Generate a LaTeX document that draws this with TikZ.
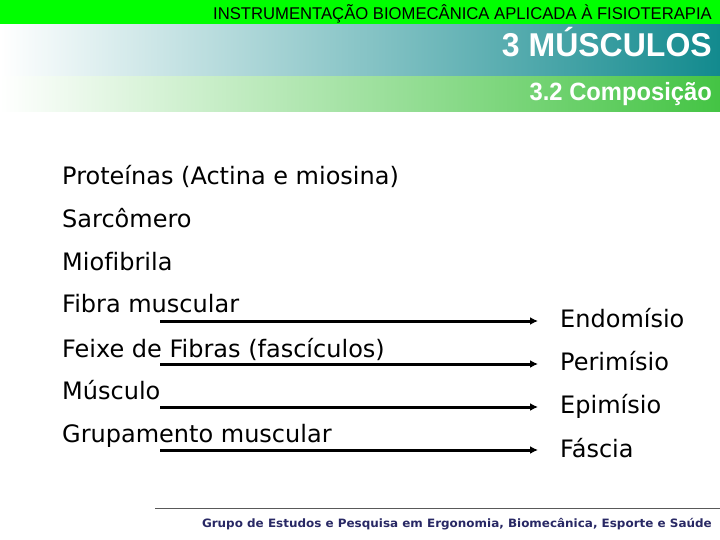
\documentclass[tikz,border=0pt]{standalone}
\usepackage{fontspec}
\setmainfont{DejaVu Sans}[Ligatures=NoCommon]
\newfontfamily\headfont{Liberation Sans}
\usepackage{xcolor}
\usetikzlibrary{positioning, arrows, arrows.meta}
\definecolor{topgreen}{RGB}{0,255,0}
\definecolor{bandteal}{RGB}{18,138,142}
\definecolor{bandgreen}{RGB}{68,196,68}
\definecolor{footnavy}{RGB}{40,40,100}
\tikzset{
    x=1pt, y=-1pt, % pixel-like units, y runs downward
    item/.style={anchor=base west, inner sep=0pt, font=\fontsize{24}{24}\selectfont}, % list entries
    tissue/.style={item}, % connective tissue names on the right
    heading/.style={anchor=base east, inner sep=0pt, text=white},
}
\tikzstyle{arrow} = [line width=3pt, -{Latex[length=8pt,width=8pt]}]

\begin{document}
\begin{tikzpicture}
    \useasboundingbox (0,0) rectangle (720,540);
    % title bars
    \fill[topgreen] (0,0) rectangle (720,25);
    \shade[left color=white, right color=bandteal] (0,25) rectangle (720,77);
    \shade[left color=white, right color=bandgreen] (0,77) rectangle (720,112);
    \node[anchor=base east, inner sep=0pt, font=\headfont\fontsize{17}{17}\selectfont] (course) at (712,20)
        {\scalebox{0.98}[1]{INSTRUMENTAÇÃO BIOMECÂNICA APLICADA À FISIOTERAPIA}};
    \node[heading, font=\headfont\bfseries\fontsize{33}{33}\selectfont] (chapter) at (712,57) {\scalebox{0.97}[1]{3 MÚSCULOS}};
    \node[heading, font=\headfont\bfseries\fontsize{25}{25}\selectfont] (section) at (712,101) {\scalebox{0.95}[1]{3.2 Composição}};

    % left list
    \node[item] (prot) at (62,185) {Proteínas (Actina e miosina)};
    \node[item] (sarc) at (62,227) {Sarcômero};
    \node[item] (miof) at (62,270) {Miofibrila};
    \node[item] (fibra) at (62,312) {Fibra muscular};
    \node[item] (feixe) at (62,357) {Feixe de Fibras (fascículos)};
    \node[item] (musc) at (62,399) {Músculo};
    \node[item] (grup) at (62,442) {Grupamento muscular};

    % right list
    \node[tissue] (endo) at (560,327) {Endomísio};
    \node[tissue] (peri) at (560,370) {Perimísio};
    \node[tissue] (epi) at (560,413) {Epimísio};
    \node[tissue] (fasc) at (560,457) {Fáscia};

    % arrows
    \coordinate (s1) at (160,321);
    \coordinate (s2) at (160,364);
    \coordinate (s3) at (160,407);
    \coordinate (s4) at (160,450);
    \draw[arrow] (s1) -- ([xshift=-22pt]s1 -| endo.west);
    \draw[arrow] (s2) -- ([xshift=-22pt]s2 -| peri.west);
    \draw[arrow] (s3) -- ([xshift=-22pt]s3 -| epi.west);
    \draw[arrow] (s4) -- ([xshift=-22pt]s4 -| fasc.west);

    % footer
    \coordinate (fl) at (155,508);
    \coordinate (fr) at (720,508);
    \draw[gray!70!black, line width=0.8pt] (fl) -- (fr);
    \node[anchor=base east, inner sep=0pt, text=footnavy, font=\bfseries\fontsize{11.5}{11.5}\selectfont] (group) at (712,527)
        {\scalebox{1.04}[1]{Grupo de Estudos e Pesquisa em Ergonomia, Biomecânica, Esporte e Saúde}};
\end{tikzpicture}
\end{document}
